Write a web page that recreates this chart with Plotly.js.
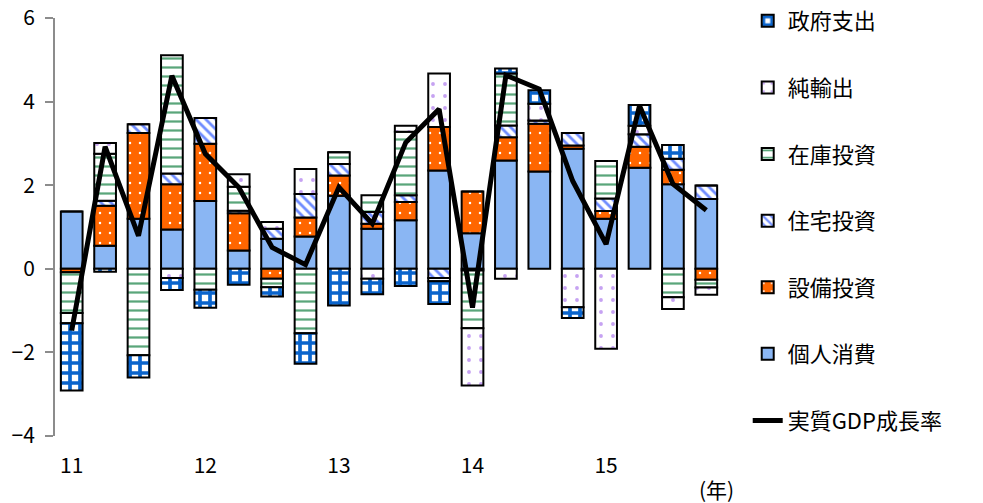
<!DOCTYPE html>
<html>
<head>
<meta charset="utf-8">
<script src="https://cdn.plot.ly/plotly-3.0.1.min.js"></script>
<style>html,body{margin:0;padding:0;background:#fff;}#chart{width:983px;height:503px;}</style>
</head>
<body>
<div id="chart"></div>
<script>
// 2011Q1 .. 2015Q4
const quarters = [0,1,2,3,4,5,6,7,8,9,10,11,12,13,14,15,16,17,18,19];
const yearTickPos = [0,4,8,12,16];
const yearTickText = ['11','12','13','14','15'];

const consumption = [1.37,0.55,1.20,0.94,1.62,0.44,0.72,0.77,1.75,0.96,1.16,2.35,0.85,2.59,2.33,2.87,1.20,2.42,2.02,1.67];
const capex       = [-0.08,0.96,2.05,1.08,1.37,0.89,-0.24,0.46,0.48,0.12,0.44,1.04,1.00,0.56,1.14,0.08,0.18,0.50,0.35,-0.26];
const housing     = [0,0.12,0.21,0.26,0.62,0.06,0.24,0.56,0.28,0.28,0.16,-0.22,-0.04,0.28,0.08,0.30,0.30,0.30,0.26,0.32];
const inventory   = [-0.98,1.12,-2.07,2.83,-0.50,0.57,-0.20,-1.54,0.28,0.40,1.52,-0.08,-1.38,1.24,0,0,0.90,0,-0.68,-0.19];
const netExports  = [-0.24,0.26,0,-0.22,0,0.30,0.16,0.60,0,-0.24,0.14,1.28,-1.37,-0.24,0.40,-0.92,-1.91,0.20,-0.28,-0.17];
const government  = [-1.61,-0.07,-0.53,-0.29,-0.43,-0.38,-0.22,-0.73,-0.88,-0.37,-0.41,-0.54,0,0.12,0.32,-0.26,0,0.50,0.33,0];
const realGDP     = [-1.48,2.92,0.79,4.62,2.75,1.95,0.51,0.10,1.95,1.08,3.02,3.82,-0.93,4.63,4.30,2.10,0.59,3.90,2.03,1.40];

const names = ['個人消費','設備投資','住宅投資','在庫投資','純輸出','政府支出','実質GDP成長率'];

const FONT = '"Noto Sans CJK JP", "Noto Sans", sans-serif';
const outline = {color:'#000', width:2};

function barTrace(y, name, rank, color, pattern){
  return {
    type:'bar', x:quarters, y:y, name:name, legendgroup:name, legendrank:rank,
    width:0.65,
    marker:{color:color, line:outline, pattern:pattern},
    hoverinfo:'skip'
  };
}

const traces = [
  barTrace(consumption, names[0], 6, '#8ab6f3', {shape:''}),
  barTrace(capex, names[1], 5, '#ff6600', {shape:'.', fillmode:'replace', fgcolor:'#ffffff', bgcolor:'#ff6600', size:10, solidity:0.05}),
  barTrace(housing, names[2], 4, '#ffffff', {shape:'\\', fillmode:'replace', fgcolor:'#6f8cff', bgcolor:'#ffffff', size:7, solidity:0.4}),
  barTrace(inventory, names[3], 3, '#ffffff', {shape:'-', fillmode:'replace', fgcolor:'#5aa67a', bgcolor:'#ffffff', size:9, solidity:0.25}),
  barTrace(netExports, names[4], 2, '#ffffff', {shape:'.', fillmode:'replace', fgcolor:'#c6a2f2', bgcolor:'#ffffff', size:12, solidity:0.08}),
  barTrace(government, names[5], 1, '#ffffff', {shape:'+', fillmode:'replace', fgcolor:'#0a64cc', bgcolor:'#ffffff', size:10, solidity:0.6}),
  {type:'scatter', mode:'lines', x:quarters, y:realGDP, name:names[6], legendgroup:names[6], legendrank:7,
   line:{color:'#000', width:5, shape:'linear'}, hoverinfo:'skip'}
];

const boundaries = [];
for (let i = 0; i <= quarters.length; i++) boundaries.push(i - 0.5);

const layout = {
  width:983, height:503,
  margin:{l:55, r:260, t:18, b:67, autoexpand:false},
  paper_bgcolor:'#fff', plot_bgcolor:'rgba(0,0,0,0)',
  font:{family:FONT, color:'#000', size:20},
  barmode:'relative', bargap:0.35,
  showlegend:true,
  legend:{x:1.037, xanchor:'left', y:1.043, yanchor:'top', maxheight:1,
          font:{family:FONT, size:22, color:'#000'},
          traceorder:'grouped', tracegroupgap:35, bgcolor:'rgba(0,0,0,0)'},
  xaxis:{range:[-0.5,19.5], tickmode:'array', tickvals:yearTickPos, ticktext:yearTickText,
         showline:false, ticks:'', showgrid:false, zeroline:false, automargin:false,
         tickfont:{family:FONT, size:21, color:'#000'}, ticklabelstandoff:15},
  xaxis2:{overlaying:'x', anchor:'free', position:0.4, side:'bottom', range:[-0.5,19.5],
          tickmode:'array', tickvals:boundaries, showticklabels:false,
          ticks:'outside', ticklen:6, tickwidth:2, tickcolor:'#9a9a9a',
          showline:true, linecolor:'#9a9a9a', linewidth:2, showgrid:false, zeroline:false,
          layer:'below traces'},
  yaxis:{range:[-4,6], tickmode:'array', tickvals:[-4,-2,0,2,4,6],
         showline:true, linecolor:'#8c8c8c', linewidth:2,
         ticks:'outside', ticklen:8, tickwidth:2, tickcolor:'#8c8c8c',
         showgrid:false, zeroline:false, automargin:false,
         tickfont:{family:FONT, size:21, color:'#000'}, ticklabelstandoff:6},
  annotations:[{text:'(年)', xref:'paper', yref:'paper', x:0.991, y:-0.126, xanchor:'center', yanchor:'middle',
                showarrow:false, font:{family:FONT, size:21, color:'#000'}}]
};

Plotly.newPlot('chart', traces, layout, {staticPlot:true, displayModeBar:false});
</script>
</body>
</html>
